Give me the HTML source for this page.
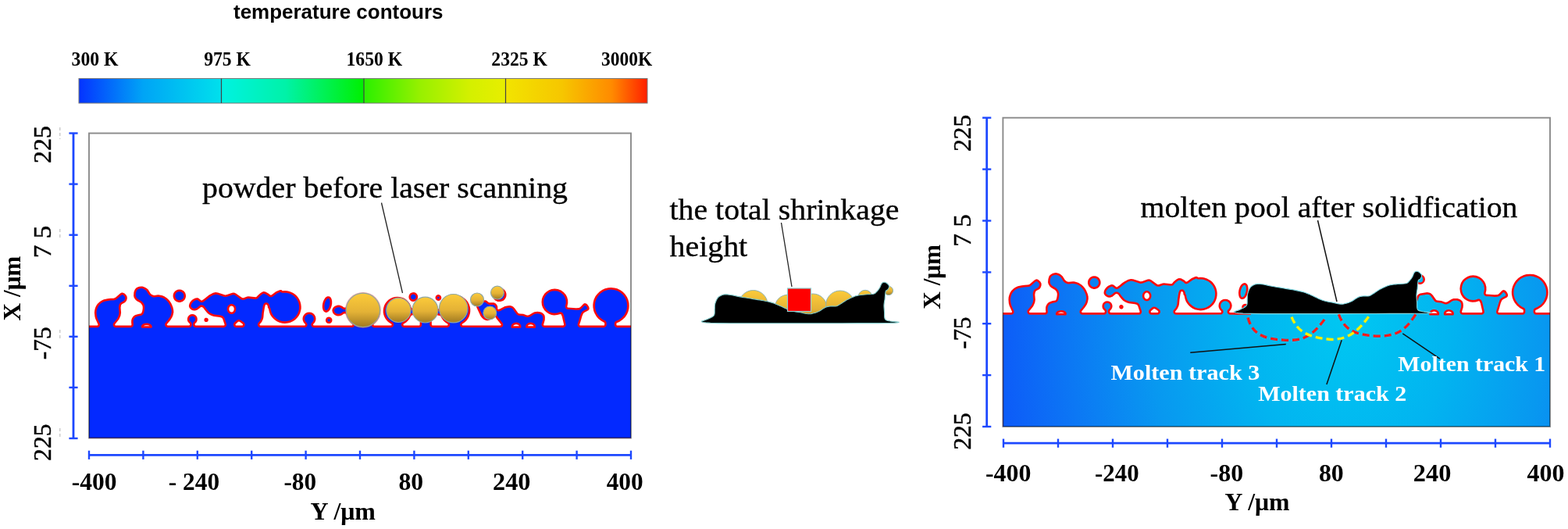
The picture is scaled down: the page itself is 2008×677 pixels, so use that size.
<!DOCTYPE html><html><head><meta charset="utf-8"><style>html,body{margin:0;padding:0;background:#fff;overflow:hidden}svg{display:block}</style></head><body><svg width="2008" height="677" viewBox="0 0 2008 677">
<defs>
<linearGradient id="cb1" x1="0" x2="1" y1="0" y2="0"><stop offset="0" stop-color="#0533ff"/><stop offset="0.45" stop-color="#00a4f6"/><stop offset="1" stop-color="#00e0ec"/></linearGradient>
<linearGradient id="cb2" x1="0" x2="1" y1="0" y2="0"><stop offset="0" stop-color="#00f2e2"/><stop offset="0.45" stop-color="#00f2a8"/><stop offset="1" stop-color="#00f000"/></linearGradient>
<linearGradient id="cb3" x1="0" x2="1" y1="0" y2="0"><stop offset="0" stop-color="#2af000"/><stop offset="0.4" stop-color="#98f000"/><stop offset="0.75" stop-color="#d4f000"/><stop offset="1" stop-color="#e8ee00"/></linearGradient>
<linearGradient id="cb4" x1="0" x2="1" y1="0" y2="0"><stop offset="0" stop-color="#f2e400"/><stop offset="0.4" stop-color="#f6c600"/><stop offset="0.75" stop-color="#ff8a00"/><stop offset="1" stop-color="#ff2000"/></linearGradient>
<linearGradient id="gold" x1="0" x2="0" y1="0" y2="1"><stop offset="0" stop-color="#fccb3a"/><stop offset="0.55" stop-color="#e4b236"/><stop offset="1" stop-color="#a07a22"/></linearGradient>
<radialGradient id="rg" gradientUnits="userSpaceOnUse" cx="1725" cy="400" r="445" gradientTransform="translate(1725 400) scale(1 1.5) translate(-1725 -400)"><stop offset="0" stop-color="#00c8f2"/><stop offset="0.3" stop-color="#02b4f0"/><stop offset="0.57" stop-color="#0898f0"/><stop offset="0.8" stop-color="#0c78f4"/><stop offset="1" stop-color="#0d5cf8"/></radialGradient>
<clipPath id="clipL"><rect x="114" y="170.5" width="694" height="390"/></clipPath>
<clipPath id="clipR"><rect x="1284.4" y="150.7" width="700.6" height="395.3"/></clipPath>
</defs>
<rect width="2008" height="677" fill="#fff"/>

<text x="299" y="24" font-family="Liberation Sans, Arial, sans-serif" font-size="25.5" font-weight="bold" textLength="268.5" lengthAdjust="spacingAndGlyphs">temperature contours</text>
<g>
<rect x="101" y="100.5" width="182.5" height="31.5" fill="url(#cb1)"/>
<rect x="283.5" y="100.5" width="182.5" height="31.5" fill="url(#cb2)"/>
<rect x="466" y="100.5" width="181.5" height="31.5" fill="url(#cb3)"/>
<rect x="647.5" y="100.5" width="181.5" height="31.5" fill="url(#cb4)"/>
<rect x="101" y="100.5" width="728" height="31.5" fill="none" stroke="#777" stroke-width="1"/>
<line x1="283.5" y1="100.5" x2="283.5" y2="132" stroke="#444" stroke-width="1.2"/>
<line x1="466" y1="100.5" x2="466" y2="132" stroke="#444" stroke-width="1.2"/>
<line x1="647.5" y1="100.5" x2="647.5" y2="132" stroke="#444" stroke-width="1.2"/>
</g>
<g font-family="Liberation Serif, Times New Roman, serif" font-weight="bold" font-size="24.2">
<text x="91.5" y="83.7" textLength="60.1" lengthAdjust="spacingAndGlyphs">300 K</text>
<text x="261.2" y="83.7" textLength="59.8" lengthAdjust="spacingAndGlyphs">975 K</text>
<text x="443.5" y="83.7" textLength="71.8" lengthAdjust="spacingAndGlyphs">1650 K</text>
<text x="629.3" y="83.7" textLength="71.7" lengthAdjust="spacingAndGlyphs">2325 K</text>
<text x="770" y="83.7" textLength="65.2" lengthAdjust="spacingAndGlyphs">3000K</text>
</g>
<g clip-path="url(#clipL)">
<path d="M60.0,601.3 860.3,601.3 861.1,600.8 861.4,599.9 861.3,417.7 860.8,416.9 859.9,416.6 790.5,416.6 789.9,416.5 789.4,415.6 789.4,414.0 789.7,413.4 793.5,411.7 797.3,409.1 800.5,405.9 803.0,402.2 804.4,399.0 805.5,394.7 805.7,391.2 805.5,387.8 804.4,383.4 803.0,380.2 800.5,376.4 797.3,373.3 794.4,371.2 790.4,369.3 787.0,368.4 782.5,368.0 779.0,368.2 774.7,369.3 771.5,370.7 767.8,373.2 764.6,376.4 762.5,379.3 760.6,383.3 759.7,386.7 759.3,390.1 759.4,393.5 760.2,397.9 761.5,401.1 763.8,405.0 766.1,407.7 769.6,410.5 773.9,413.0 774.1,413.6 774.1,415.7 773.7,416.4 773.1,416.6 743.4,416.6 742.7,416.4 742.3,415.9 742.2,415.2 743.5,411.6 745.4,404.8 746.8,401.5 747.8,400.3 749.1,399.5 753.4,397.2 754.6,395.8 754.6,393.8 754.0,392.3 753.2,390.9 752.1,389.6 750.8,388.6 748.8,388.1 747.2,388.8 743.7,392.5 742.5,393.4 741.3,394.0 737.8,394.2 727.0,393.4 726.6,392.9 726.4,392.3 727.3,388.1 727.2,384.0 726.1,380.1 724.5,377.0 721.8,373.9 718.4,371.5 714.5,370.1 710.4,369.6 706.3,370.0 703.1,371.2 699.7,373.4 697.3,375.8 695.1,379.2 693.9,382.4 693.5,386.5 693.9,390.6 695.1,393.8 697.3,397.2 699.7,399.6 703.1,401.8 706.3,402.9 709.6,403.4 713.7,403.1 717.6,401.9 718.5,402.2 719.7,405.0 722.1,415.2 721.9,416.1 721.2,416.6 696.7,416.5 696.2,416.0 696.1,415.5 697.8,409.4 697.9,406.3 697.6,404.1 697.0,402.8 695.6,401.2 694.0,400.1 692.0,399.2 688.2,398.7 684.4,399.2 681.9,400.4 677.8,403.0 676.2,403.5 674.9,403.4 670.2,401.7 665.5,401.4 664.0,401.0 663.4,400.4 659.3,394.7 657.4,392.7 655.9,391.7 653.2,391.1 650.4,391.2 646.5,392.1 640.3,395.3 638.2,396.0 637.6,395.7 637.3,395.1 637.3,392.7 636.9,391.2 635.6,389.3 634.5,388.3 633.6,387.8 632.2,387.3 626.5,387.2 625.6,386.8 623.1,384.8 621.9,384.2 620.5,384.2 616.9,385.2 613.2,387.1 611.4,388.5 610.2,390.2 609.9,391.6 610.2,393.3 615.6,404.7 617.5,406.9 619.8,408.9 622.3,410.1 623.9,410.3 625.6,410.1 627.1,409.5 631.3,407.5 633.4,405.9 634.3,405.8 634.8,406.2 635.8,407.9 641.5,414.9 641.7,415.6 641.4,416.2 640.5,416.6 592.4,416.6 591.6,415.8 591.8,414.8 595.1,412.5 597.3,410.4 599.5,407.4 600.9,404.7 602.0,401.1 602.3,398.2 602.3,395.3 601.8,392.4 600.8,389.6 599.1,386.3 597.3,384.0 595.1,381.9 592.0,379.8 589.2,378.6 585.6,377.7 582.6,377.5 578.8,377.8 575.9,378.6 572.4,380.3 569.4,382.5 567.3,384.7 565.2,387.9 564.0,390.6 562.9,394.6 559.9,396.0 558.9,397.1 558.4,398.4 558.4,400.5 559.3,402.4 561.0,403.7 563.5,404.1 564.1,404.4 566.1,408.1 567.9,410.4 570.1,412.5 573.4,414.8 573.6,415.8 572.9,416.6 553.5,416.5 552.9,415.6 552.8,405.8 552.4,405.0 551.4,404.6 539.1,404.6 538.2,404.9 537.7,405.9 537.6,415.6 537.4,416.2 536.8,416.6 517.0,416.5 516.5,415.8 516.7,414.8 520.0,412.7 522.6,410.3 524.7,407.5 526.5,403.9 529.1,403.0 530.6,401.8 531.4,400.0 531.4,398.0 530.9,396.7 530.0,395.6 527.0,394.0 525.9,390.9 524.7,388.5 522.6,385.7 520.6,383.8 517.7,381.8 515.2,380.7 511.8,379.9 509.0,379.7 505.5,380.0 502.8,380.7 499.6,382.2 497.4,383.8 495.4,385.7 493.3,388.5 492.0,391.0 491.0,394.4 490.7,397.1 490.7,399.9 491.4,403.3 492.4,405.8 493.8,408.2 496.0,411.0 498.1,412.8 501.3,414.8 501.6,415.5 501.3,416.2 500.4,416.6 479.1,416.6 478.4,416.0 478.4,414.9 481.1,412.3 483.2,409.6 485.2,406.0 486.2,402.8 486.7,399.6 486.8,396.4 486.4,393.2 485.6,390.1 484.2,387.1 482.5,384.4 480.4,382.0 477.9,379.8 475.2,378.1 471.3,376.5 468.2,375.8 464.9,375.6 461.6,375.8 457.5,376.8 454.5,378.2 451.0,380.5 448.6,382.8 446.1,386.2 444.6,389.2 443.4,393.0 442.9,393.5 440.5,393.6 438.5,392.0 436.8,391.2 434.6,390.6 432.4,390.6 430.1,391.2 428.1,392.3 426.6,393.8 425.7,395.5 425.4,396.8 425.4,398.1 426.2,400.5 427.9,402.5 430.4,403.9 432.8,404.4 435.4,404.3 438.0,403.3 440.4,401.4 442.5,401.4 443.1,401.6 443.4,402.1 444.6,405.9 446.1,408.8 448.6,412.2 451.4,414.9 451.5,415.9 450.8,416.6 401.8,416.6 401.1,416.0 401.1,415.1 403.3,412.4 404.4,409.6 404.5,407.5 404.1,405.2 402.9,402.9 401.0,401.1 398.5,399.8 396.0,399.5 393.5,399.8 391.0,401.1 389.1,402.9 387.9,405.2 387.5,407.5 387.6,409.6 388.7,412.4 390.9,415.1 390.9,416.0 390.2,416.6 333.1,416.5 332.6,415.9 332.6,415.0 335.2,411.9 336.9,408.3 337.4,405.9 337.9,400.5 339.0,393.7 339.8,390.5 340.6,389.8 341.6,390.0 342.6,391.3 342.9,393.7 343.9,395.2 345.1,400.1 346.3,402.9 348.0,405.5 350.0,407.8 352.3,409.8 355.0,411.5 357.8,412.7 361.7,413.7 364.8,413.9 368.8,413.6 371.9,412.7 375.5,411.0 378.1,409.2 381.0,406.3 382.8,403.7 384.2,401.0 385.1,398.1 385.7,395.0 385.7,391.9 385.3,388.9 384.5,385.9 383.3,383.2 381.6,380.5 379.7,378.2 378.0,376.8 375.5,375.0 372.8,373.7 370.0,372.7 367.8,372.3 364.8,372.1 361.8,372.2 360.4,371.1 359.0,370.9 357.3,371.4 353.2,373.2 348.3,377.0 347.0,377.7 346.2,377.6 344.1,375.7 340.1,373.5 337.6,373.1 336.2,373.4 333.6,374.9 330.2,377.9 328.6,379.8 327.6,380.3 318.3,379.3 316.4,379.6 311.8,381.2 310.8,381.2 309.2,380.6 302.1,375.4 300.5,374.7 299.1,374.5 297.3,374.7 290.7,377.1 288.4,377.4 279.2,374.4 276.1,374.1 272.9,374.8 267.7,377.5 261.8,382.3 258.6,384.5 257.7,384.4 254.7,381.9 253.5,381.3 252.0,381.2 250.2,381.6 247.6,382.8 245.8,384.1 243.8,386.2 242.8,388.0 242.1,390.1 241.9,392.1 242.6,394.0 244.0,395.6 245.1,396.4 246.9,397.3 248.6,397.6 250.0,397.5 252.9,396.6 257.3,393.0 258.1,392.9 259.1,393.2 260.2,394.0 262.0,396.6 264.9,400.0 266.7,401.7 268.7,403.1 270.7,404.0 273.8,405.0 281.4,405.9 283.1,406.4 284.2,407.0 285.2,408.5 287.5,415.2 287.5,415.7 287.2,416.3 286.4,416.6 250.5,416.6 249.7,415.9 249.7,414.5 250.0,414.0 251.6,412.4 252.5,410.7 252.8,408.8 252.6,406.7 251.7,404.8 250.2,403.3 248.3,402.3 246.3,402.0 244.1,402.3 242.2,403.4 240.8,404.9 240.0,406.9 239.8,408.9 240.2,411.0 241.2,412.6 243.1,414.6 243.1,415.8 242.4,416.6 214.8,416.6 213.9,416.0 213.8,415.1 218.2,409.7 220.5,406.1 221.6,403.3 222.4,399.4 222.2,396.4 221.4,393.1 219.5,388.5 217.8,385.7 215.9,383.4 213.8,381.4 210.0,379.1 207.2,378.0 204.2,377.4 202.6,377.3 197.5,377.9 195.7,377.6 194.4,376.9 192.7,375.5 189.7,370.6 187.5,368.7 185.1,367.4 182.5,366.5 180.9,366.4 178.4,366.7 176.7,367.3 174.4,368.6 173.3,369.7 172.5,370.9 171.4,374.1 171.1,378.4 171.7,380.9 173.6,383.7 175.4,385.3 180.0,387.8 181.7,389.9 182.4,391.3 182.7,393.0 182.7,395.1 182.2,398.1 181.5,400.1 180.6,401.2 176.9,401.9 173.4,402.9 171.6,404.0 170.1,405.5 168.9,407.5 168.2,409.7 168.1,412.5 168.4,415.6 168.2,416.2 167.7,416.6 148.5,416.6 147.8,416.5 147.3,415.8 147.3,415.2 147.7,414.4 152.5,408.6 154.5,404.1 155.1,400.2 154.6,393.7 155.1,390.6 156.1,389.3 159.8,387.2 160.9,386.3 162.1,384.4 162.8,382.3 162.7,379.8 161.5,377.6 159.5,375.6 158.4,374.9 157.0,374.5 155.7,374.6 153.9,375.6 148.2,380.5 146.9,381.3 145.3,381.7 141.8,381.8 137.7,382.3 132.9,383.3 130.3,384.4 127.9,385.9 124.7,389.0 123.1,391.5 121.9,394.3 121.2,397.2 120.9,400.3 121.4,404.9 122.1,407.8 125.5,415.2 125.3,416.1 124.8,416.6 60.1,416.6 59.3,416.8 58.8,417.4 58.6,599.9 59.0,600.9ZM675.8,417.2 676.3,416.4 677.3,415.7 679.6,415.2 681.9,415.7 682.9,416.4 683.4,417.2ZM657.2,417.2 657.7,416.4 658.7,415.7 661.0,415.2 663.3,415.7 664.3,416.4 664.8,417.2ZM302.2,416.6 301.5,415.8 301.7,414.9 304.2,412.5 305.8,411.6 306.5,411.8 307.9,412.6 310.7,414.7 311.1,415.4 310.8,416.2 310.0,416.6ZM299.7,396.1 299.2,397.7 298.2,398.9 296.9,399.5 295.5,399.3 294.3,398.4 293.5,397.1 293.3,395.5 293.6,393.7 294.3,392.6 295.3,391.7 296.4,391.5 297.5,391.7 298.5,392.3 299.2,393.3 299.7,394.7ZM183.9,417.2 185.4,416.5 187.8,416.2 190.2,416.5 191.7,417.2ZM648.0,374.2 647.3,372.6 646.3,371.2 645.0,370.0 643.5,369.1 641.8,368.5 640.1,368.3 638.3,368.3 636.6,368.8 635.0,369.5 633.6,370.5 632.4,371.8 631.5,373.3 630.9,375.0 630.7,376.7 630.7,378.5 631.2,380.2 631.9,381.8 632.9,383.2 634.2,384.4 635.7,385.3 637.4,385.9 639.1,386.1 640.9,386.1 642.6,385.6 644.2,384.9 645.6,383.9 646.8,382.6 647.7,381.1 648.3,379.4 648.5,377.7 648.5,375.9ZM565.1,379.7 564.4,378.4 563.1,377.5 561.7,377.1 560.1,377.3 558.8,378.0 557.9,379.3 557.5,380.7 557.7,382.3 558.4,383.6 559.7,384.5 561.1,384.9 562.7,384.7 564.0,384.0 564.9,382.7 565.3,381.3ZM534.9,378.1 533.7,376.0 531.9,374.6 529.6,374.1 527.3,374.4 525.3,375.6 523.9,377.4 523.4,379.7 523.7,382.0 524.9,384.0 526.7,385.4 529.0,385.9 531.3,385.6 533.3,384.4 534.7,382.6 535.2,380.3ZM425.3,408.4 424.5,406.9 423.1,405.9 421.5,405.5 419.8,405.7 418.3,406.5 417.3,407.9 416.9,409.5 417.1,411.2 417.9,412.7 419.3,413.7 420.9,414.1 422.6,413.9 424.1,413.1 425.1,411.7 425.5,410.1ZM423.7,394.3 424.7,391.2 425.2,388.4 425.2,385.6 424.7,383.1 423.8,381.1 422.6,379.8 421.1,379.2 419.3,379.3 417.8,380.0 416.4,381.3 415.0,383.4 414.0,385.5 413.2,388.2 412.8,391.1 412.8,393.5 413.3,395.9 414.1,397.7 415.2,399.0 416.6,399.8 418.2,399.9 419.7,399.3 421.1,398.2 422.6,396.4ZM266.7,408.5 266.2,407.6 265.3,406.9 264.3,406.7 263.2,406.8 262.3,407.3 261.6,408.2 261.4,409.2 261.5,410.3 262.0,411.2 262.9,411.9 263.9,412.1 265.0,412.0 265.9,411.5 266.6,410.6 266.8,409.6ZM237.7,376.4 237.1,374.8 236.2,373.5 235.1,372.3 233.7,371.4 232.2,370.8 230.6,370.5 229.0,370.5 227.4,370.8 225.9,371.4 224.6,372.3 223.4,373.4 222.5,374.8 221.9,376.3 221.6,377.9 221.6,379.5 221.9,381.1 222.5,382.6 223.4,383.9 224.5,385.1 225.9,386.0 227.4,386.6 229.0,386.9 230.6,386.9 232.2,386.6 233.7,386.0 235.0,385.1 236.2,384.0 237.1,382.6 237.7,381.1 238.0,379.5 238.0,377.9Z" fill="#ff0a0a" fill-rule="evenodd"/>
<path d="M61.2,598.8 858.8,598.8 858.8,419.2 790.5,419.2 789.5,419.1 788.5,418.7 787.4,417.6 786.8,416.3 786.8,413.9 787.1,412.6 788.4,411.1 792.2,409.4 795.6,407.2 797.8,405.1 799.7,402.7 801.6,399.1 802.5,396.2 803.1,392.2 802.9,388.2 802.3,385.2 800.7,381.5 798.5,378.1 796.4,375.9 793.1,373.5 790.4,372.1 786.5,371.0 782.5,370.6 779.5,370.8 775.6,371.8 772.8,373.0 769.4,375.2 767.2,377.3 764.8,380.6 763.1,384.2 762.2,387.2 761.9,391.2 762.1,394.2 763.1,398.1 764.3,400.9 765.9,403.5 768.6,406.5 771.9,408.9 775.2,410.6 776.0,411.4 776.6,412.5 776.7,415.8 776.3,417.2 775.1,418.6 773.3,419.2 743.3,419.2 742.2,419.1 741.2,418.6 739.9,416.9 739.6,414.9 743.7,402.0 744.7,399.9 746.3,398.2 751.8,395.2 752.1,394.4 751.1,392.4 749.5,390.8 748.7,390.9 745.7,394.1 744.1,395.5 742.2,396.4 740.2,396.8 737.5,396.8 730.5,396.1 727.2,396.1 725.8,395.7 724.5,394.5 723.8,393.0 723.8,391.8 724.7,387.9 724.7,385.1 723.9,381.7 722.3,378.5 720.0,375.9 717.2,373.9 713.9,372.6 710.4,372.2 706.9,372.6 704.3,373.5 701.3,375.4 698.9,377.9 697.4,380.4 696.3,383.7 696.1,386.5 696.5,390.0 697.7,393.3 699.3,395.6 701.8,398.0 704.9,399.8 707.6,400.6 711.1,400.8 713.2,400.6 716.8,399.4 717.9,399.3 719.3,399.7 720.5,400.6 721.5,402.3 722.2,404.3 724.7,415.3 724.6,416.5 724.0,417.8 723.0,418.6 721.8,419.2 697.3,419.2 696.1,419.1 695.1,418.6 694.3,417.8 693.5,415.8 693.7,414.2 695.3,409.1 695.3,406.4 695.0,404.8 694.0,403.2 692.0,402.0 690.3,401.5 688.2,401.3 685.1,401.7 683.2,402.6 680.1,404.7 678.3,405.6 676.3,406.1 674.4,406.0 669.6,404.2 664.5,403.8 662.7,403.2 661.4,402.1 656.5,395.3 655.0,394.1 653.1,393.7 650.8,393.8 648.4,394.2 646.2,395.1 640.6,398.0 638.9,398.5 637.7,398.5 636.2,397.8 635.1,396.7 634.7,395.4 634.7,393.0 634.5,392.3 633.0,390.5 631.8,389.9 627.3,389.9 625.8,389.7 624.3,389.1 621.9,387.1 620.6,386.8 617.8,387.6 614.5,389.4 613.3,390.3 612.7,391.1 612.5,391.7 613.1,393.6 617.8,403.3 619.3,405.1 621.2,406.7 623.1,407.7 623.9,407.7 626.1,407.1 629.6,405.5 632.7,403.4 634.3,403.2 635.7,403.6 636.8,404.6 637.9,406.3 640.2,409.0 643.9,413.7 644.2,414.8 644.3,416.0 644.0,417.0 643.4,417.9 642.0,418.9 640.6,419.2 591.7,419.1 590.4,418.4 589.4,417.2 589.0,415.9 589.1,414.4 590.2,412.7 592.8,411.0 595.3,408.7 596.9,406.7 598.1,404.5 599.0,402.2 599.7,398.9 599.7,396.3 599.2,393.0 598.4,390.6 596.9,387.7 595.3,385.7 592.8,383.4 590.7,382.1 587.6,380.8 585.1,380.2 582.6,380.1 579.3,380.4 576.1,381.4 573.8,382.5 571.1,384.5 569.3,386.3 567.5,389.1 566.4,391.4 565.6,394.9 565.0,396.1 563.8,397.1 561.7,397.9 560.9,399.1 561.0,400.2 561.7,401.1 562.4,401.4 564.5,401.6 565.9,402.5 568.3,406.7 569.9,408.7 571.7,410.4 574.7,412.5 575.6,413.4 576.2,415.1 576.1,416.7 575.2,418.1 573.9,419.0 572.5,419.2 554.0,419.2 552.3,418.8 550.9,417.6 550.3,416.2 550.2,407.2 540.2,407.2 540.2,416.3 539.4,417.9 537.6,419.1 536.5,419.2 517.6,419.2 515.8,418.8 514.6,417.8 514.0,416.5 513.9,415.0 514.5,413.4 515.3,412.5 517.8,411.1 520.1,409.1 522.5,406.1 524.4,402.4 525.7,401.3 528.2,400.5 528.8,399.7 528.9,398.6 528.2,397.4 526.0,396.6 524.9,395.6 523.5,392.0 522.5,389.9 521.2,388.0 519.0,385.8 517.1,384.5 514.3,383.2 511.3,382.4 509.0,382.3 505.9,382.6 503.0,383.4 500.9,384.5 498.4,386.3 496.8,388.0 495.1,390.6 494.2,392.7 493.4,395.7 493.3,398.0 493.4,400.3 493.9,402.6 494.8,404.7 496.3,407.4 497.9,409.1 500.2,411.1 502.7,412.5 503.5,413.4 504.1,414.6 504.1,415.8 503.9,416.8 503.3,417.9 502.1,418.8 500.7,419.2 478.7,419.2 477.3,418.6 476.4,417.8 475.8,416.5 475.7,415.0 476.5,413.1 479.2,410.5 481.0,408.2 482.4,405.8 483.4,403.1 484.0,400.4 484.2,397.5 484.0,394.6 483.1,391.0 482.0,388.4 480.5,386.0 478.6,383.8 476.4,381.9 474.0,380.4 471.4,379.3 467.8,378.4 464.9,378.2 462.0,378.4 458.4,379.3 455.8,380.4 452.6,382.6 450.6,384.5 448.8,386.8 447.0,390.1 445.7,394.3 445.0,395.1 444.0,395.8 442.7,396.2 439.8,396.1 438.8,395.6 437.3,394.4 436.2,393.7 434.9,393.3 433.2,393.2 431.6,393.4 429.9,394.2 428.8,395.2 428.1,396.5 428.0,398.1 428.7,399.7 430.1,400.9 432.1,401.7 434.1,401.8 435.7,401.5 437.1,400.8 438.9,399.3 440.2,398.8 443.1,398.8 444.9,399.8 445.8,400.9 447.0,404.9 448.3,407.5 450.6,410.5 453.3,413.1 454.0,414.3 454.2,415.8 453.7,417.3 452.8,418.4 451.5,419.1 402.2,419.2 401.0,419.1 399.8,418.4 399.1,417.6 398.5,416.5 398.4,415.2 399.0,413.5 400.8,411.6 401.6,410.0 401.9,408.3 401.7,406.3 400.9,404.7 399.6,403.2 398.0,402.4 396.0,402.1 394.3,402.3 392.5,403.2 391.2,404.5 390.3,406.3 390.1,408.3 390.4,410.0 391.2,411.6 393.1,413.7 393.6,415.4 393.4,416.6 392.8,417.8 391.9,418.7 390.9,419.1 333.6,419.2 331.8,418.8 330.9,418.1 330.2,416.9 329.9,415.9 330.0,414.6 330.6,413.3 333.0,410.5 334.4,407.6 334.9,405.5 335.4,400.1 336.8,391.5 337.9,388.6 338.7,387.9 339.8,387.3 341.2,387.2 342.6,387.5 343.6,388.3 344.7,389.8 345.2,391.1 345.4,392.8 346.4,394.4 347.0,397.5 347.8,400.0 349.1,402.4 350.6,404.7 353.9,407.7 356.2,409.2 358.6,410.3 361.2,411.0 364.8,411.3 367.5,411.1 371.0,410.3 373.5,409.2 376.4,407.2 378.4,405.3 380.5,402.4 381.7,400.0 382.6,397.5 383.1,394.8 383.1,392.1 382.8,389.4 382.1,386.8 381.0,384.4 379.5,382.1 376.4,378.8 374.2,377.3 371.8,376.1 369.3,375.2 366.6,374.7 361.3,374.8 360.0,374.3 359.1,373.5 354.5,375.5 349.0,379.7 347.2,380.3 346.2,380.3 345.1,379.9 342.7,377.9 339.1,375.9 338.3,375.7 337.0,375.8 335.3,376.9 332.6,379.2 330.1,382.0 329.2,382.5 327.9,382.8 326.3,382.9 318.4,381.9 317.1,382.1 312.4,383.7 310.5,383.8 309.2,383.5 307.8,382.8 301.5,378.1 299.9,377.2 297.9,377.2 291.4,379.5 288.5,380.0 286.8,379.7 278.5,376.9 276.2,376.7 272.7,377.7 269.1,379.7 262.5,385.0 260.4,386.5 259.3,387.0 258.1,387.1 256.6,386.7 252.7,383.8 251.0,384.0 248.9,385.1 247.6,386.0 245.5,388.4 244.6,390.5 244.5,391.8 244.8,392.6 245.8,393.7 247.7,394.8 248.9,395.0 250.2,394.8 252.2,394.0 254.7,391.7 256.1,390.7 257.5,390.3 259.2,390.5 260.7,391.1 261.9,392.0 264.0,395.0 266.7,398.1 268.3,399.7 269.9,400.8 271.6,401.6 274.5,402.5 281.0,403.2 284.9,404.3 286.2,405.3 287.3,406.7 290.0,414.4 290.1,416.2 289.2,418.0 288.1,418.8 286.4,419.2 250.8,419.2 249.7,419.1 248.4,418.4 247.5,417.3 247.1,416.2 247.1,414.7 247.6,412.8 249.3,411.0 249.9,410.0 250.2,408.9 250.1,407.6 249.6,406.3 248.7,405.3 247.5,404.7 246.3,404.6 245.0,404.8 243.8,405.5 242.9,406.5 242.4,407.7 242.4,409.1 242.7,410.2 243.4,411.2 245.1,412.8 245.7,414.6 245.7,416.2 245.3,417.2 244.6,418.2 243.5,418.9 242.0,419.2 214.6,419.2 213.1,418.8 211.8,417.7 211.2,416.2 211.2,414.5 211.9,413.2 214.6,410.1 218.2,404.9 219.4,401.5 219.8,399.1 219.7,396.6 219.0,394.0 217.8,391.1 215.7,387.3 214.0,385.2 212.1,383.4 210.0,382.0 207.6,380.9 203.9,379.9 201.6,380.0 197.3,380.5 195.9,380.4 193.9,379.6 192.2,378.5 190.6,377.0 187.6,372.2 186.2,370.9 184.0,369.7 181.9,369.0 181.0,369.0 179.0,369.3 177.8,369.7 175.9,370.7 174.8,372.2 173.7,375.8 173.8,378.9 174.5,380.5 176.1,382.5 181.6,385.8 184.0,388.6 184.9,390.6 185.3,392.8 185.2,395.3 184.7,398.6 183.7,401.4 182.2,403.2 180.7,403.9 178.2,404.3 174.4,405.3 173.2,406.0 172.2,407.2 171.3,408.6 170.7,410.2 170.7,412.4 171.0,415.5 170.8,416.6 170.1,417.9 168.8,418.9 167.3,419.2 148.0,419.2 146.9,418.9 146.0,418.4 145.3,417.5 144.8,416.5 144.7,414.8 145.3,413.4 150.2,407.4 152.0,403.3 152.5,400.1 152.0,393.4 152.2,391.4 152.7,389.5 153.5,388.3 154.5,387.2 157.7,385.5 159.0,384.6 160.1,382.4 160.3,381.1 159.9,379.9 158.7,378.3 156.8,377.1 155.3,377.8 149.8,382.5 147.9,383.7 146.4,384.2 140.9,384.5 133.8,385.7 131.5,386.7 129.4,388.0 126.8,390.6 125.4,392.7 124.4,395.1 123.7,397.6 123.5,400.2 123.7,403.1 124.6,407.1 128.1,415.0 128.0,416.3 127.6,417.3 126.9,418.2 125.8,419.0 124.3,419.2 61.2,419.2ZM686.1,418.0 685.9,419.3 685.5,419.7 684.8,419.9 674.1,419.8 673.3,419.3 673.1,418.0 673.5,416.0 674.9,414.2 676.9,413.0 679.6,412.6 682.0,412.9 684.1,414.1 685.6,415.8ZM667.5,418.2 667.2,419.4 666.4,419.8 655.8,419.9 655.1,419.7 654.7,419.3 654.5,418.0 655.0,415.8 656.5,414.0 658.6,412.9 661.3,412.6 663.7,413.0 665.8,414.3 667.1,416.1ZM301.2,419.0 300.2,418.4 299.3,417.2 298.9,415.8 299.1,414.3 299.7,413.1 301.5,411.3 303.2,409.9 304.4,409.3 306.2,409.0 308.2,409.7 312.3,412.6 313.4,414.0 313.7,415.5 313.4,416.9 312.6,418.2 311.3,419.0 309.9,419.2 302.6,419.2ZM302.3,396.4 301.5,398.9 299.9,401.0 297.7,402.0 295.4,402.0 293.2,401.0 291.6,399.1 290.7,396.5 290.8,393.9 291.8,391.6 293.4,389.9 295.4,389.0 297.6,389.0 299.6,389.9 301.3,391.6 302.2,393.9ZM194.8,418.7 194.4,419.5 193.6,419.8 182.0,419.8 181.0,419.2 180.8,417.8 181.4,416.1 183.1,414.6 185.6,413.8 188.7,413.6 191.4,414.2 193.4,415.3 194.6,416.9ZM645.6,375.1 644.3,372.9 642.3,371.5 639.9,370.9 637.5,371.2 635.3,372.5 633.9,374.5 633.3,376.9 633.6,379.3 634.9,381.5 636.9,382.9 639.3,383.5 641.7,383.2 643.9,381.9 645.3,379.9 645.9,377.5ZM562.7,380.6 562.0,379.8 561.0,379.7 560.2,380.4 560.1,381.4 560.8,382.2 561.8,382.3 562.6,381.6ZM532.5,378.9 531.8,377.8 530.7,377.0 529.5,376.7 528.2,376.8 527.1,377.5 526.3,378.6 526.0,379.8 526.1,381.1 526.8,382.2 527.9,383.0 529.1,383.3 530.4,383.2 531.5,382.5 532.3,381.4 532.6,380.2ZM422.9,409.2 422.0,408.2 420.6,408.1 419.6,409.0 419.5,410.4 420.4,411.4 421.8,411.5 422.8,410.6ZM421.3,393.2 422.4,389.4 422.6,385.8 421.8,382.8 421.1,382.0 420.3,381.7 419.1,382.3 417.8,383.7 416.7,385.7 415.9,388.0 415.5,390.4 415.4,392.8 415.7,394.9 416.3,396.4 417.3,397.3 418.6,397.0 420.0,395.5ZM264.1,409.5 264.1,409.3 264.0,409.4ZM235.2,377.1 234.2,375.1 232.5,373.7 230.4,373.1 228.2,373.3 226.2,374.3 224.8,376.0 224.2,378.1 224.4,380.3 225.4,382.3 227.1,383.7 229.2,384.3 231.4,384.1 233.4,383.1 234.8,381.4 235.4,379.3Z" fill="#0329ff" fill-rule="evenodd"/>
<circle cx="464.9" cy="396.9" r="22.4" fill="none" stroke="#ff3030" stroke-opacity="0.45" stroke-width="1.2"/>
<circle cx="464.9" cy="396.9" r="21.7" fill="url(#gold)" stroke="#8fa7a2" stroke-width="1.2"/>
<circle cx="510.4" cy="396.9" r="15.6" fill="url(#gold)" stroke="#8fa7a2" stroke-width="1.2"/>
<circle cx="544.5" cy="396.6" r="16.4" fill="url(#gold)" stroke="#8fa7a2" stroke-width="1.2"/>
<circle cx="580.7" cy="394.7" r="18.2" fill="url(#gold)" stroke="#8fa7a2" stroke-width="1.2"/>
<circle cx="611.0" cy="383.5" r="8.5" fill="url(#gold)" stroke="#8fa7a2" stroke-width="1.2"/>
<circle cx="636.9" cy="374.6" r="8.4" fill="url(#gold)" stroke="#8fa7a2" stroke-width="1.2"/>
<circle cx="627.3" cy="400.5" r="8.4" fill="url(#gold)" stroke="#8fa7a2" stroke-width="1.2"/>
</g>
<rect x="114" y="170.5" width="694" height="390" fill="none" stroke="rgba(0,0,0,0.46)" stroke-width="1.9"/>
<line x1="94" y1="170.5" x2="94" y2="561" stroke="#1d48ff" stroke-width="2.8"/><line x1="88.4" y1="170.5" x2="99.6" y2="170.5" stroke="#1d48ff" stroke-width="2.4"/><line x1="88.4" y1="235.6" x2="99.6" y2="235.6" stroke="#1d48ff" stroke-width="2.4"/><line x1="88.4" y1="300.7" x2="99.6" y2="300.7" stroke="#1d48ff" stroke-width="2.4"/><line x1="88.4" y1="365.8" x2="99.6" y2="365.8" stroke="#1d48ff" stroke-width="2.4"/><line x1="88.4" y1="430.8" x2="99.6" y2="430.8" stroke="#1d48ff" stroke-width="2.4"/><line x1="88.4" y1="495.9" x2="99.6" y2="495.9" stroke="#1d48ff" stroke-width="2.4"/><line x1="88.4" y1="561.0" x2="99.6" y2="561.0" stroke="#1d48ff" stroke-width="2.4"/>
<line x1="114" y1="582.3" x2="808" y2="582.3" stroke="#1d48ff" stroke-width="2.8"/><line x1="114.0" y1="576.6999999999999" x2="114.0" y2="587.9" stroke="#1d48ff" stroke-width="2.4"/><line x1="183.4" y1="576.6999999999999" x2="183.4" y2="587.9" stroke="#1d48ff" stroke-width="2.4"/><line x1="252.8" y1="576.6999999999999" x2="252.8" y2="587.9" stroke="#1d48ff" stroke-width="2.4"/><line x1="322.2" y1="576.6999999999999" x2="322.2" y2="587.9" stroke="#1d48ff" stroke-width="2.4"/><line x1="391.6" y1="576.6999999999999" x2="391.6" y2="587.9" stroke="#1d48ff" stroke-width="2.4"/><line x1="461.0" y1="576.6999999999999" x2="461.0" y2="587.9" stroke="#1d48ff" stroke-width="2.4"/><line x1="530.4" y1="576.6999999999999" x2="530.4" y2="587.9" stroke="#1d48ff" stroke-width="2.4"/><line x1="599.8" y1="576.6999999999999" x2="599.8" y2="587.9" stroke="#1d48ff" stroke-width="2.4"/><line x1="669.2" y1="576.6999999999999" x2="669.2" y2="587.9" stroke="#1d48ff" stroke-width="2.4"/><line x1="738.6" y1="576.6999999999999" x2="738.6" y2="587.9" stroke="#1d48ff" stroke-width="2.4"/><line x1="808.0" y1="576.6999999999999" x2="808.0" y2="587.9" stroke="#1d48ff" stroke-width="2.4"/>
<line x1="488.5" y1="259.5" x2="515.5" y2="375" stroke="#222" stroke-width="1.3"/>
<g font-family="Liberation Serif, Times New Roman, serif" stroke="#000" stroke-width="0.35">
<text x="259" y="252.8" font-size="38.6" font-weight="normal" fill="#000" text-anchor="start" textLength="468" lengthAdjust="spacingAndGlyphs">powder before laser scanning</text>
</g>
<g font-family="Liberation Serif, Times New Roman, serif" font-weight="bold" font-size="30.5">
<text x="91.8" y="626.8" textLength="57.8" lengthAdjust="spacingAndGlyphs">-400</text>
<text x="215.8" y="626.8" textLength="65.3" lengthAdjust="spacingAndGlyphs">- 240</text>
<text x="363.4" y="626.8" textLength="41.7" lengthAdjust="spacingAndGlyphs">-80</text>
<text x="510.4" y="626.8" textLength="31.7" lengthAdjust="spacingAndGlyphs">80</text>
<text x="631.0" y="626.8" textLength="48.5" lengthAdjust="spacingAndGlyphs">240</text>
<text x="776.7" y="626.8" textLength="47.0" lengthAdjust="spacingAndGlyphs">400</text>
<text x="397.5" y="665.2" font-size="31.2" font-weight="bold" fill="#000" text-anchor="start" textLength="83.5" lengthAdjust="spacingAndGlyphs">Y /μm</text>
</g>
<g stroke="#bbb" stroke-width="1.1" stroke-dasharray="4 3"><line x1="76.8" y1="163" x2="76.8" y2="178"/><line x1="76.8" y1="293" x2="76.8" y2="307"/><line x1="76.8" y1="422" x2="76.8" y2="436"/><line x1="76.8" y1="548" x2="76.8" y2="562"/></g>
<g font-family="Liberation Serif, Times New Roman, serif" font-size="31" stroke="#000" stroke-width="0.5">
<text transform="translate(65,185) rotate(-90)" x="0" y="0" font-size="31" font-weight="normal" text-anchor="middle" textLength="48" lengthAdjust="spacingAndGlyphs">225</text>
<text transform="translate(65,309.5) rotate(-90)" x="0" y="0" font-size="31" font-weight="normal" text-anchor="middle" textLength="41.5" lengthAdjust="spacingAndGlyphs">7 5</text>
<text transform="translate(65,439.2) rotate(-90)" x="0" y="0" font-size="31" font-weight="normal" text-anchor="middle" textLength="42" lengthAdjust="spacingAndGlyphs">-75</text>
<text transform="translate(65,566.2) rotate(-90)" x="0" y="0" font-size="31" font-weight="normal" text-anchor="middle" textLength="47.5" lengthAdjust="spacingAndGlyphs">225</text>
</g>
<g font-family="Liberation Serif, Times New Roman, serif" font-weight="bold"><text transform="translate(25.8,369) rotate(-90)" x="0" y="0" font-size="31.5" font-weight="bold" text-anchor="middle" textLength="82.8" lengthAdjust="spacingAndGlyphs">X /μm</text></g>
<g font-family="Liberation Serif, Times New Roman, serif" stroke="#000" stroke-width="0.35">
<text x="857.5" y="280.8" font-size="38.6" font-weight="normal" fill="#000" text-anchor="start" textLength="294" lengthAdjust="spacingAndGlyphs">the total shrinkage</text>
<text x="857.5" y="328.4" font-size="38.6" font-weight="normal" fill="#000" text-anchor="start" textLength="99.7" lengthAdjust="spacingAndGlyphs">height</text>
</g>
<circle cx="964.6" cy="390" r="18.5" fill="url(#gold)" stroke="#8fb3b0" stroke-width="1"/>
<circle cx="1009" cy="394" r="16.8" fill="url(#gold)" stroke="#8fb3b0" stroke-width="1"/>
<circle cx="1041" cy="394" r="18" fill="url(#gold)" stroke="#8fb3b0" stroke-width="1"/>
<circle cx="1076" cy="390.5" r="18.5" fill="url(#gold)" stroke="#8fb3b0" stroke-width="1"/>
<circle cx="1108" cy="380.5" r="9.2" fill="url(#gold)" stroke="#8fb3b0" stroke-width="1"/>
<circle cx="1138" cy="372" r="5.6" fill="url(#gold)" stroke="#8fb3b0" stroke-width="1"/>
<path d="M898.7,411.9 898.5,411.2 900.5,410.4 903.4,409.5 906.0,408.5 908.2,407.5 910.5,406.4 912.6,405.2 914.2,403.8 915.0,402.0 915.2,400.0 915.2,397.9 915.2,396.0 915.3,394.4 915.3,393.1 915.3,391.7 915.5,390.3 915.8,388.7 916.3,387.1 916.9,385.5 917.5,384.0 918.2,382.7 918.9,381.6 919.8,380.5 920.9,379.6 922.3,378.7 923.9,377.9 925.7,377.3 927.6,376.9 929.5,376.8 931.6,376.9 933.7,377.2 936.0,377.5 938.5,377.9 941.1,378.5 943.8,379.1 946.5,379.6 949.3,380.1 952.1,380.6 955.0,381.0 958.0,381.5 961.2,382.0 964.5,382.6 967.7,383.1 970.7,383.6 973.3,384.0 975.6,384.4 977.7,384.8 980.0,385.3 982.4,385.8 984.7,386.3 987.1,386.9 989.5,387.6 991.9,388.5 994.3,389.4 996.6,390.5 999.0,391.5 1001.4,392.6 1003.8,393.7 1006.1,394.8 1008.3,395.7 1010.3,396.5 1012.2,397.2 1014.1,397.8 1016.0,398.3 1018.0,398.7 1020.1,399.1 1022.2,399.4 1024.5,399.8 1027.1,400.3 1030.0,401.0 1032.7,401.5 1035.2,401.8 1037.2,401.8 1038.8,401.6 1040.4,401.2 1042.0,400.8 1043.6,400.4 1045.2,399.9 1046.8,399.2 1048.7,398.4 1050.9,397.2 1053.3,395.6 1055.8,394.1 1058.0,393.0 1059.9,392.4 1061.7,392.1 1063.3,392.0 1065.0,391.9 1066.7,391.9 1068.3,392.0 1069.9,392.0 1071.5,391.7 1073.1,391.0 1074.7,390.1 1076.3,389.1 1078.0,388.0 1079.7,386.9 1081.5,385.8 1083.2,384.6 1085.0,383.6 1086.8,382.7 1088.5,381.8 1090.3,381.0 1092.0,380.3 1093.6,379.7 1095.0,379.1 1096.6,378.6 1098.4,378.2 1100.6,377.8 1102.9,377.5 1105.5,377.3 1108.0,377.0 1110.7,376.8 1113.7,376.7 1116.4,376.5 1118.6,376.2 1119.9,375.8 1120.7,375.3 1121.3,374.8 1122.0,374.0 1123.0,373.0 1124.0,371.9 1125.0,370.7 1126.0,369.3 1126.9,367.7 1127.7,365.8 1128.5,364.0 1129.3,362.7 1130.1,361.9 1130.9,361.5 1131.8,361.3 1132.6,361.3 1133.5,361.4 1134.3,361.7 1135.2,362.2 1136.0,362.8 1136.8,363.5 1137.6,364.4 1138.3,365.3 1138.6,366.3 1138.5,367.4 1138.1,368.5 1137.6,369.6 1137.0,370.5 1136.4,371.1 1135.6,371.4 1134.9,371.8 1134.3,372.5 1134.0,373.6 1133.8,375.1 1133.6,376.6 1133.5,378.0 1133.4,379.2 1133.3,380.4 1133.2,381.6 1133.1,383.0 1132.8,384.6 1132.5,386.4 1132.2,388.3 1132.0,390.3 1132.0,392.6 1132.2,395.1 1132.4,397.6 1132.6,400.0 1132.6,402.3 1132.6,404.7 1132.8,406.8 1133.4,408.5 1134.5,409.6 1136.1,410.2 1137.9,410.6 1140.0,411.0 1142.9,411.4 1146.5,411.7 1149.6,412.0 1150.9,412.3 1150.4,412.6 1148.6,412.9 1145.3,413.2 1140.0,413.4 1133.5,413.5 1125.6,413.6 1114.9,413.6 1100.0,413.6 1078.8,413.7 1052.5,413.7 1025.0,413.8 1000.0,413.8 977.2,413.8 955.1,413.8 935.4,413.8 920.0,413.6 909.9,413.3 903.9,412.9 900.6,412.5Z" fill="#000" stroke="#7ec8c8" stroke-width="1.1"/>
<rect x="1008.5" y="369" width="30" height="29.5" fill="#ff0000" stroke="#8fd0d0" stroke-width="1.2"/>
<line x1="1000.5" y1="285" x2="1014" y2="367" stroke="#222" stroke-width="1.3"/>
<g clip-path="url(#clipR)">
<path d="M1229.9,587.7 2037.8,587.6 2038.6,587.1 2038.8,586.2 2038.8,401.2 2038.3,400.4 2037.4,400.1 1967.4,400.1 1966.7,399.9 1966.2,399.1 1966.2,397.5 1966.5,396.9 1970.4,395.1 1974.2,392.5 1977.4,389.2 1979.9,385.4 1981.4,382.2 1982.5,377.8 1982.7,374.3 1982.5,370.8 1981.4,366.4 1979.9,363.1 1977.4,359.3 1974.2,356.1 1971.3,354.0 1967.2,352.1 1963.8,351.1 1959.3,350.7 1954.7,351.1 1951.3,352.1 1947.2,354.0 1944.3,356.1 1941.1,359.3 1939.1,362.2 1937.2,366.3 1936.2,369.7 1935.8,373.2 1935.9,376.7 1936.8,381.1 1938.0,384.3 1939.8,387.5 1942.7,391.0 1946.2,393.9 1950.6,396.4 1950.8,397.0 1950.8,399.2 1950.5,399.8 1949.8,400.1 1919.7,400.1 1919.1,399.9 1918.6,399.4 1918.6,398.7 1919.9,395.0 1921.8,388.1 1923.2,384.7 1924.3,383.5 1925.5,382.7 1929.9,380.4 1931.0,378.9 1931.1,377.0 1930.5,375.4 1929.7,374.0 1928.5,372.6 1927.2,371.6 1925.3,371.1 1923.6,371.8 1920.0,375.6 1918.9,376.5 1917.6,377.1 1914.1,377.3 1903.3,376.5 1902.8,376.0 1902.6,375.4 1903.5,371.2 1903.4,367.0 1902.3,363.0 1900.7,359.9 1897.9,356.7 1894.5,354.3 1890.6,352.8 1886.4,352.3 1882.4,352.8 1879.1,354.0 1875.7,356.2 1873.2,358.6 1871.0,362.1 1869.9,365.4 1869.4,369.5 1869.9,373.6 1871.0,376.9 1873.2,380.4 1875.7,382.9 1879.1,385.1 1882.3,386.2 1885.7,386.7 1889.8,386.4 1893.7,385.2 1894.6,385.5 1895.9,388.3 1898.3,398.7 1898.1,399.6 1897.4,400.1 1872.8,400.0 1872.2,399.6 1872.0,398.9 1873.7,393.5 1873.9,390.7 1873.7,388.3 1873.1,386.4 1872.4,385.3 1871.5,384.4 1869.9,383.3 1866.5,382.1 1864.0,381.9 1861.4,382.1 1858.7,383.0 1853.6,386.3 1852.0,386.8 1850.7,386.7 1845.8,385.0 1841.2,384.6 1839.8,384.3 1839.0,383.6 1834.9,377.8 1832.9,375.7 1831.7,374.9 1830.3,374.4 1827.6,374.1 1818.6,375.6 1816.8,376.4 1815.2,377.9 1814.1,380.1 1811.4,387.7 1810.1,392.7 1809.7,397.5 1809.9,399.2 1809.5,399.9 1808.9,400.1 1575.2,400.1 1574.4,399.7 1574.2,398.7 1576.3,396.1 1577.3,393.8 1577.7,391.0 1577.2,388.5 1576.0,386.1 1574.2,384.3 1571.6,383.1 1569.1,382.7 1566.5,383.1 1564.0,384.3 1562.2,386.1 1560.9,388.5 1560.5,390.9 1560.6,393.0 1561.7,395.8 1563.9,398.5 1563.9,399.4 1563.2,400.1 1505.6,400.0 1505.0,399.3 1505.1,398.5 1507.7,395.3 1509.4,391.7 1510.0,389.2 1510.5,383.7 1511.5,376.8 1512.4,373.6 1513.2,372.9 1514.1,373.0 1515.2,374.4 1515.5,376.9 1516.5,378.3 1517.7,383.3 1518.9,386.2 1520.6,388.8 1522.7,391.2 1525.0,393.2 1527.6,394.9 1530.5,396.2 1534.4,397.1 1537.6,397.4 1541.6,397.0 1544.7,396.1 1548.4,394.4 1551.0,392.5 1553.9,389.7 1555.8,387.0 1557.1,384.2 1558.1,381.3 1558.6,378.2 1558.7,375.0 1558.3,371.9 1557.5,368.9 1556.2,366.1 1554.6,363.5 1552.6,361.1 1550.9,359.6 1548.4,357.9 1545.7,356.5 1542.8,355.5 1540.6,355.1 1537.6,354.8 1534.5,355.0 1533.1,353.9 1531.7,353.7 1530.0,354.2 1525.9,356.1 1520.9,359.8 1519.6,360.6 1518.8,360.5 1516.7,358.6 1512.6,356.3 1510.1,355.9 1508.7,356.2 1506.1,357.8 1502.6,360.7 1501.1,362.7 1500.0,363.2 1490.6,362.2 1488.7,362.5 1484.1,364.1 1483.0,364.2 1481.5,363.5 1474.3,358.2 1472.7,357.5 1471.3,357.3 1469.5,357.5 1462.7,359.9 1460.5,360.2 1451.1,357.2 1448.1,356.9 1444.8,357.7 1439.6,360.4 1437.0,362.3 1433.6,365.2 1430.3,367.5 1429.4,367.3 1426.4,364.8 1425.2,364.3 1423.7,364.1 1421.9,364.5 1419.2,365.8 1417.5,367.0 1415.5,369.2 1414.4,371.1 1413.7,373.1 1413.5,375.2 1414.2,377.1 1415.6,378.7 1416.8,379.6 1418.6,380.5 1420.3,380.8 1421.6,380.7 1424.6,379.8 1429.1,376.1 1429.9,376.0 1430.9,376.3 1432.0,377.1 1433.8,379.8 1436.7,383.2 1438.5,384.9 1440.6,386.3 1442.6,387.3 1445.7,388.3 1453.4,389.2 1455.1,389.7 1456.2,390.3 1457.2,391.8 1459.5,398.7 1459.5,399.3 1459.2,399.8 1458.4,400.1 1422.2,400.1 1421.4,399.4 1421.4,398.0 1421.7,397.4 1423.3,395.8 1424.2,394.1 1424.6,392.1 1424.3,390.0 1423.4,388.1 1421.9,386.5 1419.9,385.5 1417.9,385.2 1415.8,385.6 1413.8,386.7 1412.4,388.2 1411.6,390.2 1411.4,392.2 1411.8,394.4 1412.8,396.0 1414.7,398.0 1414.7,399.3 1414.1,400.0 1386.1,400.1 1385.3,399.6 1385.1,398.5 1389.6,393.1 1391.9,389.4 1393.0,386.6 1393.8,382.6 1393.7,379.5 1392.9,376.2 1390.9,371.6 1389.2,368.8 1387.3,366.4 1385.2,364.4 1381.3,362.0 1378.4,360.9 1375.4,360.2 1373.8,360.2 1368.7,360.8 1366.9,360.5 1365.6,359.8 1363.8,358.3 1360.8,353.4 1358.6,351.5 1356.2,350.1 1353.5,349.2 1351.9,349.1 1349.4,349.4 1347.7,350.0 1345.4,351.4 1344.3,352.5 1343.5,353.6 1342.4,356.9 1342.0,361.3 1342.7,363.8 1344.6,366.7 1346.4,368.3 1351.0,370.9 1352.8,373.0 1353.4,374.4 1353.8,376.1 1353.7,378.2 1353.2,381.2 1352.5,383.4 1351.6,384.4 1347.9,385.1 1344.4,386.2 1342.6,387.3 1341.1,388.8 1339.8,390.9 1339.1,393.0 1339.0,395.9 1339.3,399.0 1339.1,399.6 1338.6,400.0 1319.2,400.1 1318.5,399.9 1318.0,399.3 1318.0,398.6 1318.4,397.9 1323.2,392.0 1325.3,387.3 1325.9,383.4 1325.3,376.9 1325.9,373.7 1326.9,372.3 1330.7,370.3 1331.7,369.4 1332.9,367.4 1333.6,365.3 1333.6,362.7 1332.4,360.5 1330.3,358.4 1329.2,357.7 1327.8,357.3 1326.5,357.4 1324.7,358.4 1318.9,363.4 1317.6,364.3 1316.0,364.6 1312.5,364.8 1308.3,365.3 1303.5,366.2 1300.8,367.4 1298.4,368.9 1295.2,372.1 1293.6,374.6 1292.4,377.4 1291.6,380.4 1291.4,383.5 1291.8,388.2 1292.6,391.2 1296.0,398.7 1295.9,399.4 1295.3,400.0 1229.9,400.1 1229.2,400.3 1228.7,400.9 1228.5,586.2 1228.9,587.2ZM1851.5,400.7 1852.1,399.9 1853.0,399.2 1855.4,398.6 1857.7,399.2 1858.7,399.9 1859.2,400.7ZM1832.8,400.7 1833.3,399.9 1834.3,399.2 1836.6,398.6 1838.9,399.2 1839.9,399.9 1840.4,400.7ZM1474.4,400.0 1473.7,399.3 1473.9,398.3 1476.4,395.9 1478.0,395.0 1478.8,395.2 1480.2,396.0 1483.0,398.1 1483.3,398.8 1483.1,399.7 1482.3,400.1ZM1471.9,379.3 1471.4,380.8 1470.4,382.1 1469.1,382.7 1467.6,382.6 1466.4,381.6 1465.6,380.3 1465.4,378.7 1465.7,376.8 1466.4,375.7 1467.5,374.8 1468.5,374.5 1469.7,374.8 1470.6,375.4 1471.4,376.5 1471.8,377.8ZM1354.9,400.7 1356.5,399.9 1358.9,399.6 1361.3,399.9 1362.9,400.7ZM1599.0,378.9 1598.7,380.4 1598.8,381.8 1599.2,383.2 1600.0,384.4 1602.2,386.5 1603.8,387.2 1605.4,387.6 1608.5,387.6 1610.3,387.1 1611.7,386.4 1613.0,385.5 1613.9,384.4 1614.7,383.1 1615.1,381.7 1615.2,380.4 1614.9,379.0 1613.7,376.6 1611.4,374.8 1608.5,373.8 1605.4,373.8 1602.5,374.7 1600.2,376.6ZM1598.7,392.0 1597.9,390.4 1596.6,389.3 1595.0,388.8 1593.3,388.9 1591.8,389.7 1590.7,391.1 1590.2,392.7 1590.3,394.4 1591.1,396.0 1592.4,397.1 1594.1,397.6 1595.8,397.4 1597.3,396.6 1598.4,395.3 1598.9,393.6ZM1597.1,377.4 1598.1,374.3 1598.5,371.4 1598.5,368.6 1598.1,366.1 1597.2,364.0 1595.9,362.7 1594.4,362.1 1592.6,362.2 1591.1,362.9 1589.6,364.3 1588.2,366.3 1587.2,368.5 1586.4,371.3 1586.0,374.2 1586.1,376.6 1586.5,379.1 1587.3,380.9 1588.4,382.2 1589.9,383.0 1591.5,383.1 1593.0,382.5 1594.4,381.4 1595.9,379.6ZM1438.6,391.9 1438.0,390.9 1437.2,390.3 1436.1,390.0 1435.1,390.1 1434.1,390.7 1433.4,391.5 1433.2,392.6 1433.3,393.6 1433.8,394.6 1434.7,395.3 1435.7,395.6 1436.8,395.4 1437.7,394.9 1438.4,394.0 1438.7,393.0ZM1409.3,359.2 1408.7,357.7 1407.8,356.3 1406.6,355.1 1405.3,354.2 1403.7,353.6 1402.1,353.3 1400.5,353.3 1398.9,353.6 1397.4,354.2 1396.0,355.1 1394.9,356.3 1394.0,357.6 1393.3,359.1 1393.0,360.7 1393.0,362.4 1393.3,364.0 1393.9,365.5 1394.8,366.9 1396.0,368.0 1397.3,369.0 1398.9,369.6 1400.5,369.9 1402.1,369.9 1403.7,369.6 1405.2,369.0 1406.6,368.1 1407.7,366.9 1408.6,365.6 1409.3,364.1 1409.6,362.4 1409.6,360.8Z" fill="#ff0a0a" fill-rule="evenodd"/>
<path d="M1231.1,585.0 2036.2,585.0 2036.2,402.8 1967.3,402.8 1966.3,402.6 1965.3,402.2 1964.2,401.1 1963.6,399.8 1963.6,397.4 1963.9,396.0 1965.2,394.5 1969.1,392.8 1972.5,390.5 1974.7,388.4 1976.6,385.9 1978.5,382.3 1979.7,378.4 1980.1,375.3 1979.9,371.2 1978.9,367.2 1977.6,364.4 1975.4,361.0 1973.2,358.7 1970.0,356.3 1967.2,354.9 1963.3,353.7 1959.3,353.3 1955.2,353.7 1952.2,354.6 1948.5,356.3 1946.0,358.1 1943.1,361.0 1941.4,363.5 1939.6,367.2 1938.8,370.2 1938.4,374.3 1938.6,377.4 1939.6,381.3 1940.9,384.2 1943.1,387.6 1945.2,389.8 1948.5,392.3 1951.9,394.0 1952.7,394.8 1953.3,396.0 1953.4,399.3 1953.0,400.7 1951.7,402.2 1950.0,402.8 1919.7,402.8 1918.5,402.6 1917.5,402.1 1916.8,401.4 1916.2,400.4 1916.0,398.4 1920.1,385.2 1921.1,383.1 1922.7,381.4 1928.3,378.3 1928.5,377.6 1927.5,375.5 1925.9,373.9 1925.1,373.9 1922.1,377.3 1920.4,378.7 1918.5,379.6 1916.5,380.0 1913.8,380.0 1906.8,379.3 1903.4,379.2 1902.1,378.8 1900.8,377.7 1900.0,376.1 1900.0,374.9 1900.9,371.0 1900.9,368.1 1900.1,364.6 1898.5,361.4 1896.2,358.7 1893.3,356.7 1890.0,355.4 1886.5,354.9 1883.0,355.4 1880.3,356.4 1877.3,358.2 1874.8,360.8 1873.4,363.3 1872.3,366.7 1872.0,369.5 1872.4,373.0 1873.7,376.4 1875.3,378.8 1877.8,381.2 1880.9,383.0 1883.7,383.8 1887.2,384.1 1889.3,383.8 1893.0,382.6 1894.1,382.5 1895.5,382.9 1896.7,383.8 1897.7,385.5 1898.4,387.6 1900.9,398.8 1900.8,400.0 1900.2,401.3 1899.2,402.1 1898.0,402.7 1873.2,402.8 1872.0,402.6 1871.1,402.1 1870.3,401.4 1869.5,399.7 1869.6,397.7 1871.1,393.1 1871.2,389.8 1870.7,387.5 1869.8,386.4 1868.6,385.6 1867.0,384.9 1865.2,384.6 1861.8,384.7 1859.9,385.3 1855.9,388.0 1854.0,389.0 1852.0,389.4 1850.1,389.3 1845.3,387.5 1840.1,387.1 1838.5,386.6 1837.0,385.4 1832.8,379.5 1831.3,377.8 1829.6,377.0 1827.6,376.8 1819.4,378.1 1818.2,378.6 1817.3,379.4 1814.0,388.4 1812.7,393.1 1812.3,397.5 1812.5,399.0 1812.3,400.2 1811.8,401.2 1811.1,402.0 1810.1,402.5 1809.1,402.8 1575.0,402.8 1573.6,402.3 1572.6,401.6 1571.8,400.4 1571.5,399.0 1572.0,397.1 1573.9,394.9 1574.7,393.4 1575.1,391.4 1574.7,389.3 1573.9,387.8 1572.6,386.5 1570.8,385.6 1569.1,385.3 1567.3,385.6 1565.5,386.5 1564.1,388.0 1563.3,389.6 1563.1,391.6 1563.4,393.4 1564.3,395.0 1566.2,397.1 1566.7,398.9 1566.5,400.1 1566.0,401.1 1565.0,402.1 1563.9,402.6 1506.1,402.8 1504.3,402.3 1503.4,401.6 1502.6,400.4 1502.4,399.3 1502.4,398.1 1503.1,396.7 1505.5,393.9 1506.9,391.0 1507.4,388.8 1507.9,383.3 1509.3,374.6 1510.4,371.7 1511.2,370.9 1512.3,370.4 1513.7,370.2 1515.1,370.6 1516.2,371.4 1517.3,372.9 1517.8,374.2 1518.0,375.9 1519.0,377.6 1519.6,380.7 1520.5,383.2 1521.7,385.7 1523.3,387.9 1526.6,391.1 1528.9,392.6 1531.3,393.7 1534.0,394.4 1537.6,394.7 1540.3,394.5 1543.8,393.7 1546.3,392.5 1549.3,390.5 1551.3,388.6 1553.5,385.7 1554.7,383.3 1555.5,380.7 1556.0,378.0 1556.1,375.2 1555.8,372.5 1555.0,369.9 1553.9,367.3 1552.5,365.0 1549.3,361.7 1547.1,360.1 1544.7,358.9 1542.1,358.0 1539.4,357.6 1534.0,357.6 1532.8,357.1 1531.9,356.4 1527.2,358.4 1521.6,362.6 1519.9,363.2 1518.8,363.2 1517.7,362.9 1515.2,360.8 1511.6,358.8 1510.8,358.5 1509.5,358.7 1507.8,359.8 1505.1,362.1 1502.5,364.9 1501.6,365.4 1500.3,365.8 1498.7,365.8 1490.7,364.8 1489.5,365.0 1484.7,366.7 1482.7,366.8 1481.4,366.5 1480.0,365.8 1473.6,361.0 1472.1,360.1 1470.1,360.1 1463.5,362.5 1460.6,362.9 1458.9,362.6 1450.4,359.8 1448.1,359.5 1444.6,360.6 1441.0,362.7 1434.3,368.0 1432.2,369.5 1431.1,370.0 1429.8,370.1 1428.4,369.8 1424.4,366.8 1422.7,367.0 1420.6,368.0 1419.3,369.0 1417.1,371.5 1416.3,373.6 1416.1,374.9 1416.5,375.7 1417.4,376.8 1419.4,378.0 1420.6,378.1 1421.9,378.0 1423.9,377.1 1426.4,374.8 1427.8,373.8 1429.3,373.4 1431.0,373.5 1432.5,374.2 1433.7,375.1 1435.9,378.2 1438.6,381.3 1440.2,382.9 1441.8,384.0 1443.5,384.8 1446.4,385.7 1453.0,386.5 1456.9,387.6 1458.3,388.6 1459.3,390.1 1462.1,397.9 1462.1,399.7 1461.3,401.5 1460.1,402.4 1458.5,402.8 1422.5,402.8 1421.3,402.6 1420.1,401.9 1419.2,400.8 1418.8,399.6 1418.7,398.1 1419.3,396.2 1421.0,394.4 1421.6,393.4 1421.9,392.2 1421.8,390.9 1421.3,389.6 1420.3,388.6 1419.1,388.0 1417.9,387.8 1416.6,388.1 1415.4,388.8 1414.5,389.8 1414.0,391.1 1414.0,392.4 1414.4,393.6 1415.0,394.6 1416.7,396.2 1417.4,398.0 1417.3,399.6 1417.0,400.7 1416.2,401.7 1415.1,402.5 1413.6,402.8 1385.9,402.8 1384.4,402.3 1383.1,401.2 1382.5,399.7 1382.6,398.0 1383.2,396.6 1386.0,393.5 1389.6,388.2 1390.8,384.7 1391.2,382.3 1391.1,379.8 1390.4,377.1 1389.2,374.1 1387.0,370.3 1385.3,368.2 1383.4,366.3 1381.4,364.9 1378.9,363.8 1375.2,362.9 1372.8,362.9 1368.5,363.4 1367.0,363.3 1365.0,362.5 1363.3,361.4 1361.7,359.9 1358.7,355.0 1357.2,353.7 1355.1,352.5 1353.0,351.8 1352.0,351.7 1350.0,352.0 1348.8,352.4 1346.9,353.5 1345.7,355.0 1344.7,358.6 1344.8,361.8 1345.4,363.4 1347.1,365.5 1352.7,368.8 1355.1,371.6 1356.0,373.7 1356.4,375.9 1356.3,378.4 1355.8,381.8 1354.8,384.7 1353.2,386.5 1351.8,387.1 1349.2,387.5 1345.4,388.7 1344.2,389.4 1343.1,390.5 1342.2,392.0 1341.7,393.6 1341.6,395.8 1341.9,398.9 1341.8,400.0 1341.1,401.4 1339.7,402.4 1338.2,402.8 1318.7,402.7 1317.7,402.5 1316.7,401.9 1316.0,401.0 1315.5,400.0 1315.4,398.3 1316.0,396.8 1321.0,390.7 1322.8,386.6 1323.3,383.3 1322.7,376.6 1322.9,374.5 1323.5,372.6 1324.2,371.3 1325.3,370.2 1328.5,368.5 1329.8,367.6 1330.9,365.4 1331.1,364.0 1330.8,362.9 1329.5,361.2 1327.6,359.9 1326.1,360.6 1320.6,365.5 1318.6,366.7 1317.1,367.1 1311.5,367.5 1304.3,368.7 1302.1,369.7 1299.9,371.1 1297.3,373.7 1295.9,375.8 1294.9,378.3 1294.2,380.8 1294.0,383.5 1294.2,386.4 1295.1,390.4 1298.6,398.4 1298.5,399.7 1298.2,400.8 1297.4,401.7 1296.3,402.5 1294.8,402.8 1231.1,402.8ZM1862.0,401.5 1861.7,402.8 1861.3,403.2 1860.7,403.4 1849.8,403.4 1849.0,402.8 1848.8,401.5 1849.2,399.5 1850.6,397.7 1852.7,396.4 1855.3,396.0 1857.8,396.4 1860.0,397.5 1861.5,399.3ZM1843.2,401.7 1842.9,402.9 1842.0,403.4 1831.3,403.4 1830.7,403.2 1830.2,402.8 1830.0,401.5 1830.5,399.3 1832.1,397.5 1834.2,396.3 1836.9,396.0 1839.4,396.5 1841.4,397.7 1842.8,399.6ZM1473.4,402.5 1472.2,401.7 1471.3,400.5 1471.1,399.2 1471.2,397.8 1471.9,396.6 1473.7,394.7 1475.4,393.3 1476.6,392.7 1478.4,392.4 1480.4,393.1 1484.6,396.0 1485.7,397.5 1486.0,399.0 1485.7,400.4 1484.8,401.7 1483.6,402.5 1482.2,402.8 1474.8,402.8ZM1474.5,379.6 1473.7,382.1 1472.0,384.2 1469.9,385.3 1467.5,385.3 1465.3,384.2 1463.7,382.3 1462.8,379.6 1462.9,377.0 1463.9,374.7 1465.5,372.9 1467.5,372.0 1469.8,372.0 1471.8,372.9 1473.4,374.7 1474.4,377.0ZM1365.9,402.3 1365.5,403.0 1364.8,403.4 1353.0,403.4 1352.0,402.7 1351.8,401.3 1352.5,399.5 1354.2,398.1 1356.7,397.2 1359.8,397.0 1362.6,397.6 1364.6,398.7 1365.8,400.4ZM1601.5,379.7 1601.4,381.5 1602.3,383.2 1604.0,384.4 1606.1,385.0 1608.3,385.0 1610.4,384.2 1611.8,382.8 1612.5,381.1 1612.3,379.5 1611.4,378.0 1609.7,376.8 1607.8,376.3 1605.8,376.4 1603.7,377.1 1602.3,378.2ZM1596.2,392.7 1595.4,391.6 1594.0,391.5 1593.0,392.3 1592.8,393.7 1593.7,394.7 1595.0,394.9 1596.1,394.0ZM1594.6,376.3 1595.8,372.4 1595.9,368.8 1595.7,367.1 1595.2,365.8 1594.5,364.9 1593.6,364.7 1592.4,365.2 1591.1,366.7 1590.0,368.7 1589.2,371.0 1588.7,373.5 1588.6,376.0 1588.9,378.0 1589.6,379.7 1590.7,380.5 1592.0,380.0 1593.4,378.7ZM1436.1,392.7 1435.9,392.6 1435.8,392.8 1436.0,392.9ZM1406.8,359.9 1405.7,357.9 1404.0,356.5 1401.8,355.9 1399.6,356.1 1397.7,357.2 1396.3,358.9 1395.6,361.0 1395.8,363.3 1396.9,365.2 1398.6,366.7 1400.8,367.3 1403.0,367.1 1404.9,366.0 1406.3,364.3 1407.0,362.2Z" fill="url(#rg)" fill-rule="evenodd"/>
<rect x="1602" y="398.5" width="214" height="6" fill="url(#rg)"/>
<circle cx="1818.5" cy="357.5" r="5.2" fill="url(#rg)" stroke="#ff0a0a" stroke-width="2.6"/>
<g transform="translate(682 -12.2) translate(0 413.5) scale(1 1.035) translate(0 -413.5)"><path d="M898.7,411.9 898.5,411.2 900.5,410.4 903.4,409.5 906.0,408.5 908.2,407.5 910.5,406.4 912.6,405.2 914.2,403.8 915.0,402.0 915.2,400.0 915.2,397.9 915.2,396.0 915.3,394.4 915.3,393.1 915.3,391.7 915.5,390.3 915.8,388.7 916.3,387.1 916.9,385.5 917.5,384.0 918.2,382.7 918.9,381.6 919.8,380.5 920.9,379.6 922.3,378.7 923.9,377.9 925.7,377.3 927.6,376.9 929.5,376.8 931.6,376.9 933.7,377.2 936.0,377.5 938.5,377.9 941.1,378.5 943.8,379.1 946.5,379.6 949.3,380.1 952.1,380.6 955.0,381.0 958.0,381.5 961.2,382.0 964.5,382.6 967.7,383.1 970.7,383.6 973.3,384.0 975.6,384.4 977.7,384.8 980.0,385.3 982.4,385.8 984.7,386.3 987.1,386.9 989.5,387.6 991.9,388.5 994.3,389.4 996.6,390.5 999.0,391.5 1001.4,392.6 1003.8,393.7 1006.1,394.8 1008.3,395.7 1010.3,396.5 1012.2,397.2 1014.1,397.8 1016.0,398.3 1018.0,398.7 1020.1,399.1 1022.2,399.4 1024.5,399.8 1027.1,400.3 1030.0,401.0 1032.7,401.5 1035.2,401.8 1037.2,401.8 1038.8,401.6 1040.4,401.2 1042.0,400.8 1043.6,400.4 1045.2,399.9 1046.8,399.2 1048.7,398.4 1050.9,397.2 1053.3,395.6 1055.8,394.1 1058.0,393.0 1059.9,392.4 1061.7,392.1 1063.3,392.0 1065.0,391.9 1066.7,391.9 1068.3,392.0 1069.9,392.0 1071.5,391.7 1073.1,391.0 1074.7,390.1 1076.3,389.1 1078.0,388.0 1079.7,386.9 1081.5,385.8 1083.2,384.6 1085.0,383.6 1086.8,382.7 1088.5,381.8 1090.3,381.0 1092.0,380.3 1093.6,379.7 1095.0,379.1 1096.6,378.6 1098.4,378.2 1100.6,377.8 1102.9,377.5 1105.5,377.3 1108.0,377.0 1110.7,376.8 1113.7,376.7 1116.4,376.5 1118.6,376.2 1119.9,375.8 1120.7,375.3 1121.3,374.8 1122.0,374.0 1123.0,373.0 1124.0,371.9 1125.0,370.7 1126.0,369.3 1126.9,367.7 1127.7,365.8 1128.5,364.0 1129.3,362.7 1130.1,361.9 1130.9,361.5 1131.8,361.3 1132.6,361.3 1133.5,361.4 1134.3,361.7 1135.2,362.2 1136.0,362.8 1136.8,363.5 1137.6,364.4 1138.3,365.3 1138.6,366.3 1138.5,367.4 1138.1,368.5 1137.6,369.6 1137.0,370.5 1136.4,371.1 1135.6,371.4 1134.9,371.8 1134.3,372.5 1134.0,373.6 1133.8,375.1 1133.6,376.6 1133.5,378.0 1133.4,379.2 1133.3,380.4 1133.2,381.6 1133.1,383.0 1132.8,384.6 1132.5,386.4 1132.2,388.3 1132.0,390.3 1132.0,392.6 1132.2,395.1 1132.4,397.6 1132.6,400.0 1132.6,402.3 1132.6,404.7 1132.8,406.8 1133.4,408.5 1134.5,409.6 1136.1,410.2 1137.9,410.6 1140.0,411.0 1142.9,411.4 1146.5,411.7 1149.6,412.0 1150.9,412.3 1150.4,412.6 1148.6,412.9 1145.3,413.2 1140.0,413.4 1133.5,413.5 1125.6,413.6 1114.9,413.6 1100.0,413.6 1078.8,413.7 1052.5,413.7 1025.0,413.8 1000.0,413.8 977.2,413.8 955.1,413.8 935.4,413.8 920.0,413.6 909.9,413.3 903.9,412.9 900.6,412.5Z" fill="#000" stroke="#7ed6e0" stroke-width="1.1"/></g>
</g>
<rect x="1284.4" y="150.7" width="700.6" height="395.3" fill="none" stroke="rgba(0,0,0,0.46)" stroke-width="1.9"/>
<line x1="1263.7" y1="150.7" x2="1263.7" y2="546" stroke="#1d48ff" stroke-width="2.8"/><line x1="1258.1000000000001" y1="150.7" x2="1269.3" y2="150.7" stroke="#1d48ff" stroke-width="2.4"/><line x1="1258.1000000000001" y1="216.6" x2="1269.3" y2="216.6" stroke="#1d48ff" stroke-width="2.4"/><line x1="1258.1000000000001" y1="282.5" x2="1269.3" y2="282.5" stroke="#1d48ff" stroke-width="2.4"/><line x1="1258.1000000000001" y1="348.4" x2="1269.3" y2="348.4" stroke="#1d48ff" stroke-width="2.4"/><line x1="1258.1000000000001" y1="414.2" x2="1269.3" y2="414.2" stroke="#1d48ff" stroke-width="2.4"/><line x1="1258.1000000000001" y1="480.1" x2="1269.3" y2="480.1" stroke="#1d48ff" stroke-width="2.4"/><line x1="1258.1000000000001" y1="546.0" x2="1269.3" y2="546.0" stroke="#1d48ff" stroke-width="2.4"/>
<line x1="1285" y1="567.2" x2="1985" y2="567.2" stroke="#1d48ff" stroke-width="2.8"/><line x1="1285.0" y1="561.6" x2="1285.0" y2="572.8000000000001" stroke="#1d48ff" stroke-width="2.4"/><line x1="1355.0" y1="561.6" x2="1355.0" y2="572.8000000000001" stroke="#1d48ff" stroke-width="2.4"/><line x1="1425.0" y1="561.6" x2="1425.0" y2="572.8000000000001" stroke="#1d48ff" stroke-width="2.4"/><line x1="1495.0" y1="561.6" x2="1495.0" y2="572.8000000000001" stroke="#1d48ff" stroke-width="2.4"/><line x1="1565.0" y1="561.6" x2="1565.0" y2="572.8000000000001" stroke="#1d48ff" stroke-width="2.4"/><line x1="1635.0" y1="561.6" x2="1635.0" y2="572.8000000000001" stroke="#1d48ff" stroke-width="2.4"/><line x1="1705.0" y1="561.6" x2="1705.0" y2="572.8000000000001" stroke="#1d48ff" stroke-width="2.4"/><line x1="1775.0" y1="561.6" x2="1775.0" y2="572.8000000000001" stroke="#1d48ff" stroke-width="2.4"/><line x1="1845.0" y1="561.6" x2="1845.0" y2="572.8000000000001" stroke="#1d48ff" stroke-width="2.4"/><line x1="1915.0" y1="561.6" x2="1915.0" y2="572.8000000000001" stroke="#1d48ff" stroke-width="2.4"/><line x1="1985.0" y1="561.6" x2="1985.0" y2="572.8000000000001" stroke="#1d48ff" stroke-width="2.4"/>
<g fill="none" stroke-width="3.3" stroke-dasharray="9 5">
<path d="M1598,406.5 C1604,428 1618,434 1646.5,435.3 C1668,436 1680,432 1699,404.8" stroke="#ff1a1a"/>
<path d="M1714.4,402.2 C1722,424 1738,429 1765.4,430.2 C1792,430 1802,420 1814.6,399.7" stroke="#ff1a1a"/>
<path d="M1654,405.6 C1662,425 1675,432 1706,434.5 C1730,434 1742,420 1754.3,403" stroke="#f8f000"/>
</g>
<g stroke="#111" stroke-width="1.5">
<line x1="1687.5" y1="282" x2="1712" y2="386"/>
<line x1="1524.3" y1="451.2" x2="1646.8" y2="440.4"/>
<line x1="1698.9" y1="492" x2="1718.2" y2="435.3"/>
<line x1="1796.3" y1="426.8" x2="1843.9" y2="459.1"/>
</g>
<g font-family="Liberation Serif, Times New Roman, serif" stroke="#000" stroke-width="0.35">
<text x="1460.5" y="277.6" font-size="38.6" font-weight="normal" fill="#000" text-anchor="start" textLength="483" lengthAdjust="spacingAndGlyphs">molten pool after solidfication</text>
</g>
<g font-family="Liberation Serif, Times New Roman, serif" font-weight="bold" font-size="27.8" fill="#fff">
<text x="1422.4" y="486" font-size="27.8" font-weight="bold" fill="#fff" text-anchor="start" textLength="191" lengthAdjust="spacingAndGlyphs">Molten track 3</text>
<text x="1611.2" y="512.5" font-size="27.8" font-weight="bold" fill="#fff" text-anchor="start" textLength="190" lengthAdjust="spacingAndGlyphs">Molten track 2</text>
<text x="1790.3" y="475.4" font-size="27.8" font-weight="bold" fill="#fff" text-anchor="start" textLength="189" lengthAdjust="spacingAndGlyphs">Molten track 1</text>
</g>
<g font-family="Liberation Serif, Times New Roman, serif" font-weight="bold" font-size="30.5">
<text x="1262.0" y="615.5" textLength="58.5" lengthAdjust="spacingAndGlyphs">-400</text>
<text x="1402.0" y="615.5" textLength="56.6" lengthAdjust="spacingAndGlyphs">-240</text>
<text x="1549.6" y="615.5" textLength="42.6" lengthAdjust="spacingAndGlyphs">-80</text>
<text x="1688.9" y="615.5" textLength="31.8" lengthAdjust="spacingAndGlyphs">80</text>
<text x="1809.8" y="615.5" textLength="48.6" lengthAdjust="spacingAndGlyphs">240</text>
<text x="1955.5" y="615.5" textLength="47.9" lengthAdjust="spacingAndGlyphs">400</text>
<text x="1568.6" y="652.7" font-size="31.2" font-weight="bold" fill="#000" text-anchor="start" textLength="83" lengthAdjust="spacingAndGlyphs">Y /μm</text>
</g>
<g font-family="Liberation Serif, Times New Roman, serif" font-size="31" stroke="#000" stroke-width="0.5">
<text transform="translate(1243,170.3) rotate(-90)" x="0" y="0" font-size="31" font-weight="normal" text-anchor="middle" textLength="47" lengthAdjust="spacingAndGlyphs">225</text>
<text transform="translate(1243,295) rotate(-90)" x="0" y="0" font-size="31" font-weight="normal" text-anchor="middle" textLength="41.5" lengthAdjust="spacingAndGlyphs">7 5</text>
<text transform="translate(1243,426.1) rotate(-90)" x="0" y="0" font-size="31" font-weight="normal" text-anchor="middle" textLength="41" lengthAdjust="spacingAndGlyphs">-75</text>
<text transform="translate(1243,552) rotate(-90)" x="0" y="0" font-size="31" font-weight="normal" text-anchor="middle" textLength="47.5" lengthAdjust="spacingAndGlyphs">225</text>
</g>
<g font-family="Liberation Serif, Times New Roman, serif" font-weight="bold"><text transform="translate(1204,354.3) rotate(-90)" x="0" y="0" font-size="31.5" font-weight="bold" text-anchor="middle" textLength="82.8" lengthAdjust="spacingAndGlyphs">X /μm</text></g>
</svg></body></html>
